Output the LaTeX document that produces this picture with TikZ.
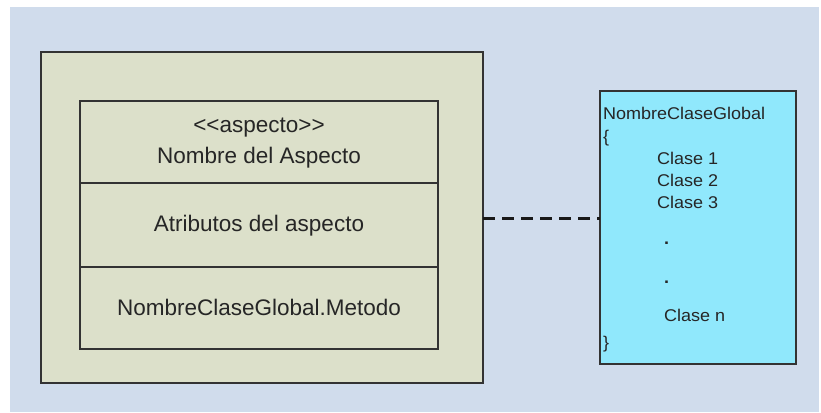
\documentclass[tikz,border=0pt]{standalone}
\usepackage{fontspec}
\setmainfont{Liberation Sans}
\newfontfamily\listfont[FakeStretch=1.06]{Liberation Sans}
\begin{document}
\begin{tikzpicture}[x=1pt,y=-1pt,
  every node/.style={inner sep=0pt, outer sep=0pt},
  boxline/.style={draw=black!80, line width=1.4pt},
  aspectbox/.style={boxline, fill=aspectfill, anchor=north west},
  classbox/.style={boxline, fill=classfill, anchor=north west},
  bigtxt/.style={font=\fontsize{22.5}{27}\selectfont, text=black!85, anchor=base},
  listtxt/.style={font=\listfont\fontsize{17}{20}\selectfont, text=black!85, anchor=base west},
  link/.style={draw=black!90, line width=3pt, dash pattern=on 12pt off 7pt}]
\definecolor{pagebg}{HTML}{D0DCEC}
\definecolor{aspectfill}{HTML}{DCE0CA}
\definecolor{classfill}{HTML}{90E8FC}

\useasboundingbox (0,0) rectangle (821,412);
\fill[white] (0,0) rectangle (821,412);
\fill[pagebg] (10,7) rectangle (819,412);

% aspect container
\node[aspectbox, minimum width=442pt, minimum height=331pt] (outer) at (41,52) {};

% compartments of the aspect
\node[aspectbox, minimum width=358pt, minimum height=82pt] (head) at (80,101) {};
\node[aspectbox, minimum width=358pt, minimum height=84pt] (attrs) at (80,183) {};
\node[aspectbox, minimum width=358pt, minimum height=82pt] (meth) at (80,267) {};

\node[bigtxt] (stereo) at (259,132) {<{}<aspecto>{}>};
\node[bigtxt] (aname) at (259,163.5) {Nombre del Aspecto};
\node[bigtxt] (atxt) at (259,231.5) {Atributos del aspecto};
\node[bigtxt] (mtxt) at (259,315) {NombreClaseGlobal.Metodo};

% global class list
\node[classbox, minimum width=196pt, minimum height=273pt] (cls) at (600,91) {};
\node[listtxt] (cname) at (603,119) {NombreClaseGlobal};
\node[listtxt] (open) at (603,142) {\{};
\node[listtxt] (c1) at (657,164) {Clase 1};
\node[listtxt] (c2) at (657,186) {Clase 2};
\node[listtxt] (c3) at (657,208) {Clase 3};
\node[listtxt] (d1) at (664,244) {\textbf{.}};
\node[listtxt] (d2) at (664,283) {\textbf{.}};
\node[listtxt] (cn) at (664,321) {Clase n};
\node[listtxt] (close) at (603,348) {\}};

% dashed connector
\draw[link] (outer.east |- {(0,218)}) -- (cls.west |- {(0,218)});
\end{tikzpicture}
\end{document}
